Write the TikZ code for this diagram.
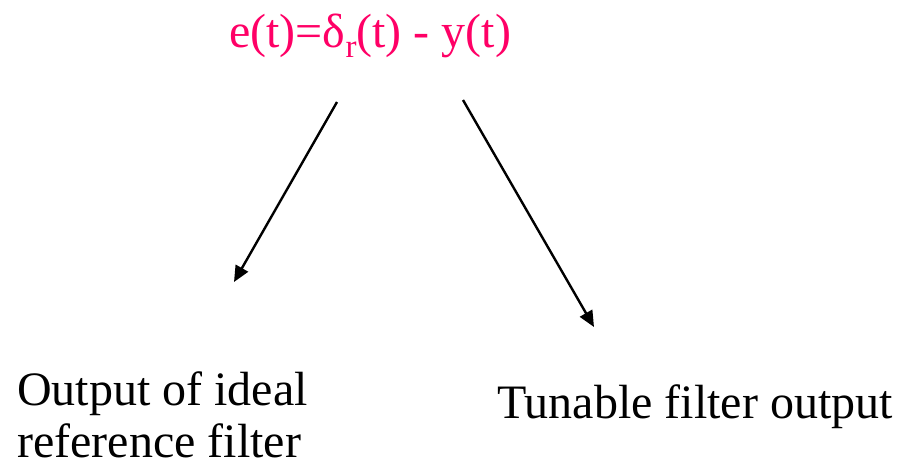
\documentclass[tikz,border=0pt]{standalone}
\usepackage{fontspec}
\setmainfont{Liberation Serif}
\usepackage{xcolor}
\usetikzlibrary{arrows.meta}
\definecolor{errpink}{RGB}{255,0,102}
\tikzset{
  label text/.style={font=\fontsize{48}{52}\selectfont,align=left,inner sep=0pt},
  err arrow/.style={->,line width=2.4pt}
}

\begin{document}
\begin{tikzpicture}[x=1pt,y=-1pt,>={Triangle[length=16pt,width=14pt]}]
\useasboundingbox (0,0) rectangle (899,467);
\node[label text,errpink,anchor=base west] (err) at (229,47)
  {e(t)=δ\raisebox{-10pt}{\fontsize{33}{33}\selectfont r}(t) - y(t)};
\node[label text,anchor=base west] (ideal) at (17,457) {Output of ideal\\reference filter};
\node[label text,anchor=base west] (tunable) at (497,418) {Tunable filter output};
\coordinate (l0) at (337,102);
\coordinate (l1) at (234,282);
\coordinate (r0) at (463,100);
\coordinate (r1) at (594,327);
\draw[err arrow] (l0)--(l1);
\draw[err arrow] (r0)--(r1);
\end{tikzpicture}
\end{document}
